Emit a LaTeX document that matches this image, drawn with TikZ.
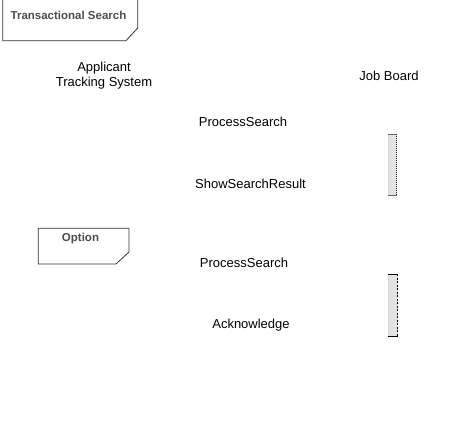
\documentclass[tikz,border=0pt]{standalone}
\usepackage{fontspec}
\setmainfont{Liberation Sans}
\begin{document}
\begin{tikzpicture}[x=1pt,y=-1pt,
  lbl/.style={inner sep=0pt,font=\fontsize{13}{15.5}\selectfont,align=center},
  ftitle/.style={inner sep=0pt,font=\bfseries\fontsize{11.5}{13}\selectfont,text=black!70},
  frameline/.style={draw=black!80,line width=0.8pt},
  barfill/.style={fill=black!11,draw=none}]
\useasboundingbox (0,0) rectangle (460,435);
% frame Transactional Search
\draw[frameline] (2.8,0) -- (2.8,40.7) -- (126,40.7) -- (137.7,28) -- (137.7,0);
\node[ftitle] (ts) at (68.5,15.5) {Transactional Search};
% frame Option
\draw[frameline] (38.3,228.3) -- (129,228.3) -- (129,252) -- (116,264) -- (38.3,264) -- cycle;
\node[ftitle] (opt) at (80.5,238.5) {Option};
% lifeline labels
\node[lbl] (ats) at (104,75.5) {Applicant\\Tracking System};
\node[lbl] (jb) at (389,75.5) {Job Board};
% messages
\node[lbl] (ps1) at (243,121.5) {ProcessSearch};
\node[lbl] (ssr) at (250.5,183.5) {ShowSearchResult};
\node[lbl] (ps2) at (244,262.5) {ProcessSearch};
\node[lbl] (ack) at (251,325) {Acknowledge};
% activation bar 1
\fill[barfill] (388.3,134.3) rectangle (397.3,195.7);
\draw[black!15,line width=0.6pt] (388.6,134.3) -- (388.6,195.7);
\draw[black!60,line width=1.2pt] (388.3,134.3) -- (397.3,134.3);
\draw[black!60,line width=1.2pt] (388.3,195.7) -- (397.3,195.7);
\draw[black!85,line width=1.2pt,dash pattern=on 1pt off 1pt] (396.8,134.3) -- (396.8,195.7);
% activation bar 2
\fill[barfill] (388.3,274.3) rectangle (398,336.3);
\draw[black!15,line width=0.6pt] (388.6,274.3) -- (388.6,336.3);
\draw[black,line width=1.2pt] (388.3,274.3) -- (398,274.3);
\draw[black,line width=1.2pt] (388.3,336.3) -- (398,336.3);
\draw[black,line width=1.2pt,dash pattern=on 2pt off 1.5pt] (397.4,274.3) -- (397.4,336.3);
\end{tikzpicture}
\end{document}
